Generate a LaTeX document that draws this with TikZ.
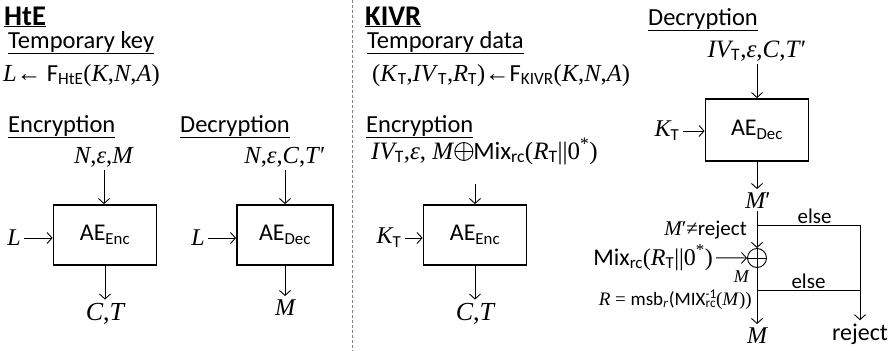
\documentclass[tikz,border=0pt]{standalone}
\usepackage{fontspec}
\setmainfont{Carlito}
\newfontfamily\tnr{Liberation Serif}
\usetikzlibrary{arrows.meta,positioning}
\newcommand{\mv}[1]{{\tnr\itshape #1}}
\newcommand{\tm}[1]{{\tnr #1}}
\newcommand{\sub}[1]{\textsubscript{#1}}
\newcommand{\fs}[1]{\fontsize{#1}{#1}\selectfont}
\newcommand{\supsub}[2]{\rlap{\textsuperscript{#1}}\textsubscript{#2}}
\newcommand{\xorsign}{\tikz[baseline={(0pt,-7.5pt)}]{\draw[line width=0.9pt] (0pt,0pt) circle (9pt) (-9pt,0pt) -- (9pt,0pt) (0pt,-9pt) -- (0pt,9pt);}}

\tikzset{
  aebox/.style={draw, line width=1.8pt, minimum width=103pt, minimum height=60pt, font=\fs{24}},
  head/.style={anchor=base west, inner sep=0pt, font=\fs{24.5}},
  title/.style={anchor=base west, inner sep=0pt, font=\bfseries\fs{28.5}},
  lbl/.style={inner sep=3pt, font=\fs{24}},
  small/.style={inner sep=1pt, font=\fs{21}},
  flow/.style={-{Straight Barb[length=5pt,width=11pt]}, line width=0.9pt},
}

\begin{document}
\begin{tikzpicture}[x=1pt,y=-1pt]
\useasboundingbox (0,0) rectangle (895,351);

% separator
\draw[dashed, gray, line width=0.8pt, dash pattern=on 3pt off 2pt] (352,0) -- (352,351);

% HtE
\node[title] (hte) at (4,25) {\underline{HtE}};
\node[head] (tkey) at (8,48) {\underline{Temporary key}};
\node[lbl, anchor=base west, inner sep=0pt, font=\fs{24.5}] (ldef) at (3,81)
  {\mv{L}\tm{←} F\sub{HtE}\tm{(\textit{K},\textit{N},\textit{A})}};

\node[head] (enc1h) at (8,132) {\underline{Encryption}};
\node[head] (dec1h) at (180,132) {\underline{Decryption}};

\node[aebox] (enc1) at (105,235) {AE\sub{Enc}};
\node[lbl, anchor=base, font=\fs{24.5}] (enc1in) at (104,163) {\mv{N}\tm{,\textit{ε},\textit{M}}};
\node[lbl] (l1) at (14,238) {\mv{L}};
\node[lbl, anchor=base, font=\fs{26}] (enc1out) at (105,320) {\mv{C}\tm{,}\mv{T}};
\draw[flow] (enc1in) -- (enc1in |- enc1.north);
\draw[flow] (l1) -- (l1 -| enc1.west);
\draw[flow] (enc1) -- (enc1out);

\node[aebox, minimum width=96pt] (dec1) at (285,235) {AE\sub{Dec}};
\node[lbl, anchor=base, font=\fs{24.5}] (dec1in) at (285,163) {\mv{N}\tm{,\textit{ε},\textit{C},\textit{T}′}};
\node[lbl] (l2) at (198,238) {\mv{L}};
\node[lbl, anchor=base] (dec1out) at (285,315) {\mv{M}};
\draw[flow] (dec1in) -- (dec1);
\draw[flow] (l2) -- (l2 -| dec1.west);
\draw[flow] (dec1) -- (dec1out);

% KIVR
\node[title] (kivr) at (365,25) {\underline{KIVR}};
\node[head] (tdata) at (367,48) {\underline{Temporary data}};
\node[lbl, anchor=base west, inner sep=0pt, font=\fs{24.5}] (kdef) at (372,81)
  {\tm{(\textit{K}}\sub{T}\tm{,\textit{IV}}\sub{T}\tm{,\textit{R}}\sub{T}\tm{)←}F\sub{KIVR}\tm{(\textit{K},\textit{N},\textit{A})}};

\node[head] (enc2h) at (366,132) {\underline{Encryption}};
\node[aebox] (enc2) at (475,235) {AE\sub{Enc}};
\node[lbl, anchor=base west, inner sep=0pt, font=\fs{25}] (enc2txt) at (371,159)
  {\mv{IV}\sub{T}\tm{,\textit{ε}, \textit{M}}\xorsign Mix\sub{rc}\tm{(\textit{R}}\sub{T}\tm{||0}\textsuperscript{\tm{*}}\tm{)}};
\coordinate (enc2in) at (475,184);
\node[lbl] (kt1) at (389,238) {\mv{K}\sub{T}};
\node[lbl, anchor=base, font=\fs{26}] (enc2out) at (475,320) {\mv{C}\tm{,}\mv{T}};
\draw[flow] (enc2in) -- (enc2);
\draw[flow] (kt1) -- (kt1 -| enc2.west);
\draw[flow] (enc2) -- (enc2out);

% KIVR decryption
\node[head] (dec2h) at (648,25) {\underline{Decryption}};
\node[aebox, minimum height=62pt] (dec2) at (757,130) {AE\sub{Dec}};
\node[lbl, anchor=base, font=\fs{25}] (dec2in) at (757,57) {\mv{IV}\sub{T}\tm{,\textit{ε},\textit{C},\textit{T}′}};
\node[lbl] (kt2) at (667,131) {\mv{K}\sub{T}};
\node[lbl, anchor=base] (mp) at (758,208) {\mv{M}\tm{′}};
\draw[flow] (dec2in) -- (dec2in |- dec2.north);
\draw[flow] (kt2) -- (kt2 -| dec2.west);
\draw[flow] (dec2) -- (dec2 |- mp.north);

\node[draw, circle, minimum size=19pt, inner sep=0pt, line width=0.9pt,
  path picture={\draw[line width=0.9pt]
    (path picture bounding box.north) -- (path picture bounding box.south)
    (path picture bounding box.west) -- (path picture bounding box.east);}]
  (xor) at (757,258) {};
\node[lbl, anchor=base east] (mix) at (716,265)
  {Mix\sub{rc}\tm{(\textit{R}}\sub{T}\tm{||0}\textsuperscript{\tm{*}}\tm{)}};
\node[small, anchor=base east] (neq) at (748,235) {\mv{M}\tm{′≠}reject};
\node[small, anchor=base east, inner sep=0pt, font=\fs{18}] (msm) at (749,282) {\mv{M}};
\node[small, anchor=base east, inner sep=0pt, font=\fs{19}] (rdef) at (752,305)
  {\mv{R}\tm{ = }msb\sub{\mv{r}}(MIX\supsub{-1}{rc}\tm{(\textit{M}))}};
\node[lbl, anchor=base] (mout) at (757,343) {\mv{M}};
\node[lbl, anchor=base] (rej) at (860,340) {reject};

\coordinate (br1) at (757,225);
\coordinate (br2) at (757,290);
\draw[flow] (mp.south -| xor) -- (xor);
\draw[flow] (mix) -- (xor);
\draw[flow] (xor) -- (mout);
\draw[flow] (br1) -| node[small, pos=0.28, above] {else} (rej.north);
\draw[line width=0.9pt] (br2) -- node[small, above] {else} (br2 -| rej.north);

\end{tikzpicture}
\end{document}
